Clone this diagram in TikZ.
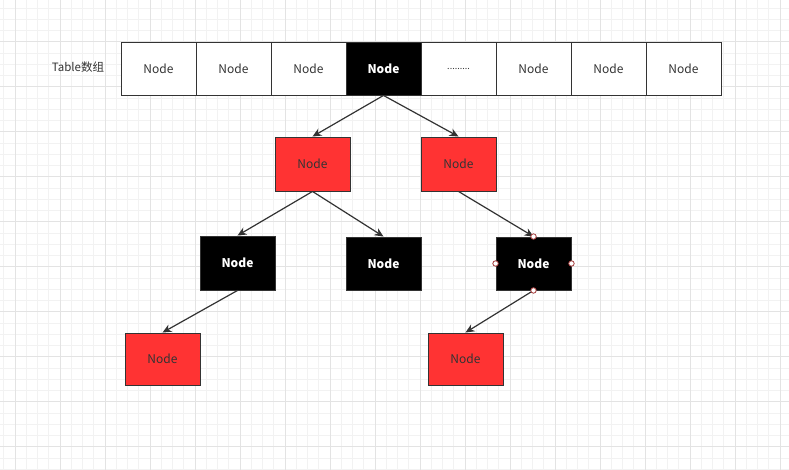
\documentclass[tikz,border=0pt]{standalone}
\usepackage{fontspec}
\setmainfont{Noto Sans CJK SC}
\usetikzlibrary{arrows.meta}
\definecolor{nred}{HTML}{FF3333}
\definecolor{edge}{HTML}{333333}
\definecolor{gminor}{HTML}{F2F2F2}
\definecolor{gmajor}{HTML}{E3E3E3}
\definecolor{cpt}{HTML}{A33A3A}
\tikzset{
  cell/.style={draw=edge, line width=0.9pt, minimum width=75pt, minimum height=53pt, inner sep=0pt, font=\fontsize{12}{14}\selectfont, text=edge},
  whitecell/.style={cell, fill=white},
  blackcell/.style={cell, fill=black, text=white, font=\fontsize{12}{14}\selectfont\bfseries},
  redcell/.style={cell, fill=nred, text=edge},
  conn/.style={draw=edge, line width=1.2pt, -{Stealth[length=9pt,width=8pt]}},
  cpoint/.style={circle, draw=cpt, fill=white, line width=0.8pt, minimum size=5.5pt, inner sep=0pt},
}
\begin{document}
\begin{tikzpicture}[x=1pt,y=-1pt]
\useasboundingbox (0,0) rectangle (789,470);
\fill[white] (0,0) rectangle (789,470);
% grid
\foreach \i in {0,...,70} {
  \pgfmathsetmacro\gx{3.75+11.25*\i}
  \draw[gminor, line width=0.8pt] (\gx,0) -- (\gx,470);
}
\foreach \i in {0,...,42} {
  \pgfmathsetmacro\gy{7.95+11.25*\i}
  \draw[gminor, line width=0.8pt] (0,\gy) -- (789,\gy);
}
\foreach \i in {0,...,17} {
  \pgfmathsetmacro\gx{15+45*\i}
  \draw[gmajor, line width=0.9pt] (\gx,0) -- (\gx,470);
}
\foreach \i in {0,...,10} {
  \pgfmathsetmacro\gy{-3.3+45*\i}
  \draw[gmajor, line width=0.9pt] (0,\gy) -- (789,\gy);
}
% label
\node (lbl) at (78,67.5) {\fontsize{11.5}{13}\selectfont\color{edge}Table数组};
% table
\node[whitecell] (t1) at (158.5,68.5) {Node};
\node[whitecell] (t2) at (233.5,68.5) {Node};
\node[whitecell] (t3) at (308.5,68.5) {Node};
\node[blackcell] (t4) at (383.5,68.5) {Node};
\node[whitecell] (t5) at (458.5,68.5) {\fontsize{9}{10}\selectfont .........};
\node[whitecell] (t6) at (533.5,68.5) {Node};
\node[whitecell] (t7) at (608.5,68.5) {Node};
\node[whitecell] (t8) at (683.5,68.5) {Node};
% level 1
\node[redcell, minimum height=54pt] (r1) at (312.5,164) {Node};
\node[redcell, minimum height=54pt] (r2) at (458.5,164) {Node};
% level 2
\node[blackcell, minimum height=54pt] (b1) at (237.5,263) {Node};
\node[blackcell] (b2) at (383.5,263.5) {Node};
\node[blackcell] (b3) at (533.5,263.5) {Node};
% level 3
\node[redcell, minimum height=52pt] (r3) at (162.5,359) {Node};
\node[redcell, minimum height=52pt] (r4) at (465.5,359) {Node};
% connectors
\draw[conn] (t4.south) -- (r1.north);
\draw[conn] (t4.south) -- (r2.north);
\draw[conn] (r1.south) -- (b1.north);
\draw[conn] (r1.south) -- (b2.north);
\draw[conn] (r2.south) -- (b3.north);
\draw[conn] (b1.south) -- (r3.north);
\draw[conn] (b3.south) -- (r4.north);
% connection points on selected node
\node[cpoint] (p1) at (b3.north) {};
\node[cpoint] (p2) at (b3.south) {};
\node[cpoint] (p3) at (b3.west) {};
\node[cpoint] (p4) at (b3.east) {};
\end{tikzpicture}
\end{document}
